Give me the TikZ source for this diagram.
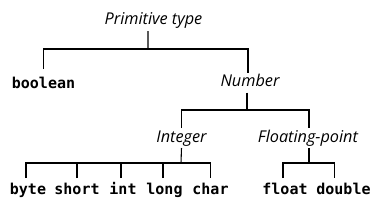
\documentclass[tikz,border=0pt]{standalone}
\usepackage{fontspec}
\newfontfamily\catfont{Open Sans}
\newfontfamily\kwfont{DejaVu Sans Mono}
\begin{document}
\begin{tikzpicture}[x=0.75pt,y=-0.75pt,
  cat/.style={font=\catfont\itshape\fontsize{12.2}{14}\selectfont,anchor=base,inner sep=0pt},
  kw/.style={font=\kwfont\bfseries\fontsize{11.25}{13}\selectfont,anchor=base,inner sep=0pt},
  edge/.style={draw=black,line width=0.8pt}]
\useasboundingbox (0,0) rectangle (387,205);
% nodes
\node[cat] (prim) at (153.5,24) {Primitive type};
\node[kw]  (bool) at (43.5,88.5) {boolean};
\node[cat] (num)  at (250,86.5) {Number};
\node[cat] (intg) at (181.5,142) {Integer};
\node[cat] (flt)  at (308,142) {Floating-point};
\node[kw] (byte)  at (28,194) {byte};
\node[kw] (short) at (77,194) {short};
\node[kw] (int)   at (123,194) {int};
\node[kw] (long)  at (164.5,194) {long};
\node[kw] (char)  at (210.5,194) {char};
\node[kw] (float) at (285,194) {float};
\node[kw] (double) at (343.5,194) {double};
% junctions
\coordinate (j1) at (148,49);
\coordinate (j2) at (247,110);
\coordinate (j3) at (181,163);
\coordinate (j4) at (309,163);
% edges
\draw[edge] ([xshift=-4.1pt,yshift=-5.25pt]prim.base) -- (j1);
\draw[edge] ([yshift=14.6pt]bool.base) |- (j1) -| ([xshift=-1.5pt,yshift=10pt]num.base);
\draw[edge] ([xshift=-2.25pt,yshift=-4.5pt]num.base) -- (j2);
\draw[edge] ([yshift=10.5pt]intg.base) |- (j2) -| ([xshift=0.75pt,yshift=10.5pt]flt.base);
\draw[edge] ([yshift=-4.5pt]intg.base) -- (j3);
\draw[edge] ([xshift=-1.5pt,yshift=12pt]byte.base) |- (j3) -| ([yshift=12pt]char.base);
\draw[edge] ([yshift=12pt]short.base) -- (short.base |- j3);
\draw[edge] ([xshift=-1.5pt,yshift=12pt]int.base) -- ([xshift=-1.5pt]int.base |- j3);
\draw[edge] ([xshift=-1.1pt,yshift=12pt]long.base) -- ([xshift=-1.1pt]long.base |- j3);
\draw[edge] ([xshift=0.75pt,yshift=-4.5pt]flt.base) -- (j4);
\draw[edge] ([xshift=-1.5pt,yshift=12pt]float.base) |- (j4) -| ([xshift=-6.4pt,yshift=12pt]double.base);
\end{tikzpicture}
\end{document}
